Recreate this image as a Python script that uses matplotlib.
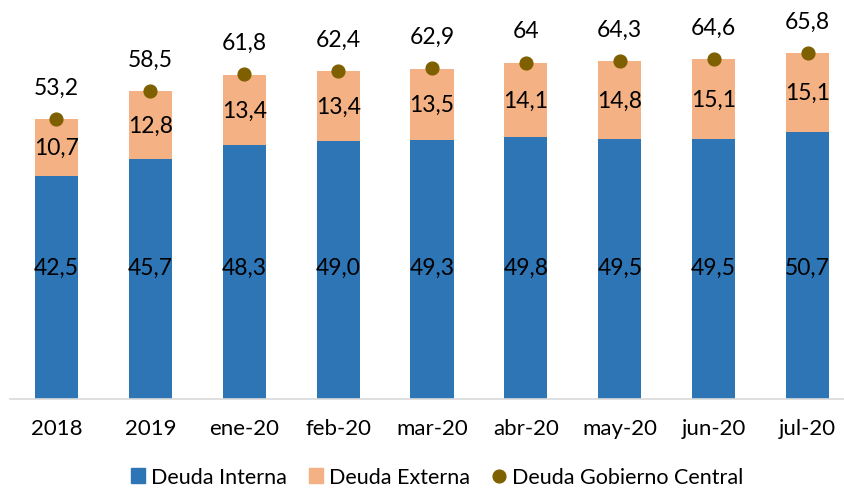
import numpy as np
import matplotlib.pyplot as plt
from matplotlib.patches import Patch
from matplotlib.lines import Line2D

plt.rcParams['font.family'] = ['Lato', 'DejaVu Sans']

categories = ["2018", "2019", "ene-20", "feb-20", "mar-20", "abr-20", "may-20", "jun-20", "jul-20"]
deuda_interna = [42.5, 45.7, 48.3, 49.0, 49.3, 49.8, 49.5, 49.5, 50.7]
deuda_externa = [10.7, 12.8, 13.4, 13.4, 13.5, 14.1, 14.8, 15.1, 15.1]
deuda_total = [53.2, 58.5, 61.8, 62.4, 62.9, 64.0, 64.3, 64.6, 65.8]

c_int = "#2E75B6"
c_ext = "#F4B183"
c_tot = "#7F6000"


def coma(v, fmt):
    return format(v, fmt).replace(".", ",")


fig = plt.figure(figsize=(8.44, 4.89), dpi=100)
ax = fig.add_axes([9.5 / 844, 89 / 489, 845 / 844, 368 / 489])

x = np.arange(len(categories))
w = 0.46
ax.bar(x, deuda_interna, w, color=c_int)
ax.bar(x, deuda_externa, w, bottom=deuda_interna, color=c_ext)
ax.plot(x, deuda_total, "o", color=c_tot, markersize=9.2, zorder=3)

fs = 16.5
for i in range(len(x)):
    ax.text(x[i], 25, coma(deuda_interna[i], ".1f"), ha="center", va="center", fontsize=fs)
    ax.text(x[i], deuda_interna[i] + deuda_externa[i] / 2, coma(deuda_externa[i], ".1f"),
            ha="center", va="center", fontsize=fs)
    ax.annotate(coma(deuda_total[i], "g"), (x[i], deuda_total[i]), xytext=(0, 23),
                textcoords="offset points", ha="center", va="center", fontsize=fs)

ax.set_xlim(-0.5, len(x) - 0.5)
ax.set_ylim(0, 70)
ax.set_xticks(x)
ax.set_xticklabels(categories, fontsize=16)
ax.tick_params(axis="x", length=0, pad=14)
ax.set_yticks([])
for s in ["top", "right", "left"]:
    ax.spines[s].set_visible(False)
ax.spines["bottom"].set_color("#D9D9D9")
ax.spines["bottom"].set_linewidth(1.2)

handles = [
    Patch(color=c_int, label="Deuda Interna"),
    Patch(color=c_ext, label="Deuda Externa"),
    Line2D([], [], marker="o", linestyle="none", color=c_tot, markersize=9.2,
           label="Deuda Gobierno Central"),
]
fig.legend(handles=handles, loc="center", bbox_to_anchor=(437 / 844, 1 - 478 / 489),
           ncol=3, frameon=False, fontsize=15.5, handlelength=0.65, handleheight=0.65,
           handletextpad=0.3, columnspacing=1.0)

fig.savefig("out.png", dpi=100)
